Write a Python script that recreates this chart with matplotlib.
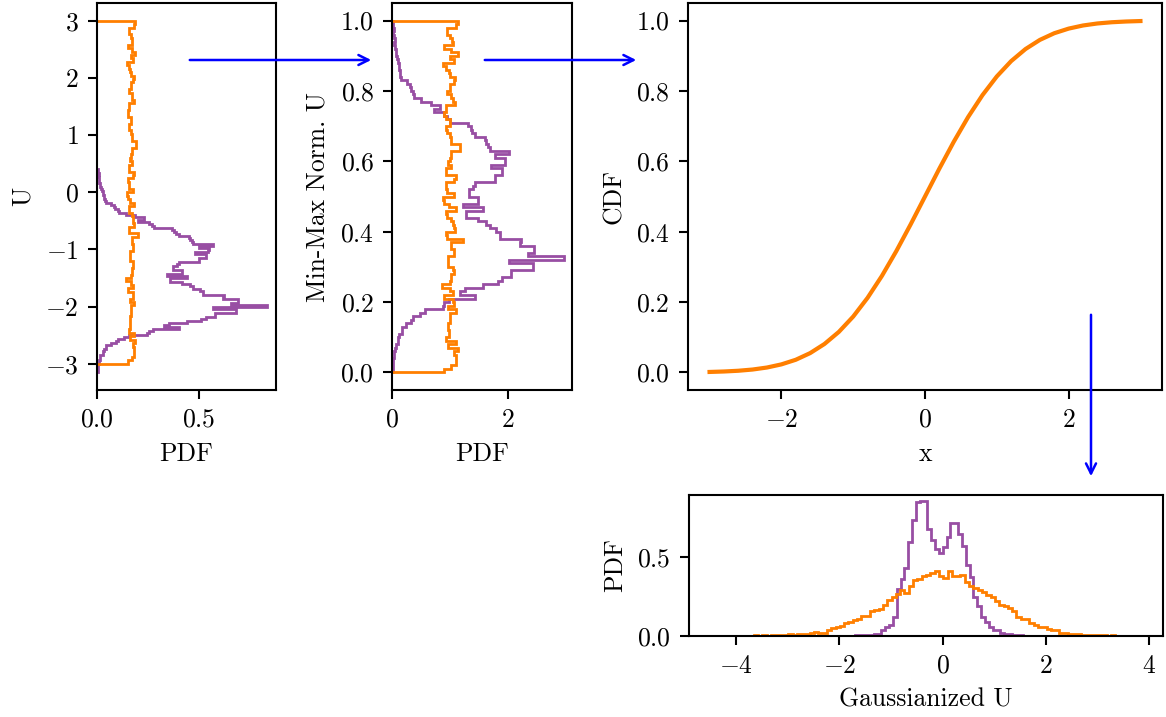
import numpy as np
import matplotlib
matplotlib.use("Agg")
import matplotlib.pyplot as plt
from matplotlib.patches import FancyArrowPatch

# everything scaled ~1.85x from matplotlib defaults
plt.rcParams.update({
    "font.family": "cmr10",
    "mathtext.fontset": "cm",
    "axes.formatter.use_mathtext": True,
    "font.size": 18.5,
    "axes.labelpad": 7.4,
    "axes.linewidth": 1.5,
    "xtick.major.size": 6.5,
    "ytick.major.size": 6.5,
    "xtick.major.width": 1.5,
    "ytick.major.width": 1.5,
    "xtick.major.pad": 6.5,
    "ytick.major.pad": 6.5,
})

PURPLE = "#984ea3"
ORANGE = "#ff7f00"

# ---- histogram densities of min-max normalised U (100 bins on [0, 1]) ----
norm_purple_pdf = [
    0.01, 0.01, 0.02, 0.02, 0.03, 0.03, 0.05, 0.06, 0.10, 0.10,
    0.12, 0.16, 0.16, 0.24, 0.33, 0.36, 0.47, 0.56, 0.87, 0.90,
    0.98, 1.42, 1.16, 1.25, 1.56, 1.82, 1.90, 2.05, 2.05, 2.42,
    2.42, 2.02, 2.97, 2.34, 2.45, 2.45, 2.20, 2.22, 1.85, 1.85,
    1.79, 1.68, 1.62, 1.48, 1.28, 1.28, 1.56, 1.22, 1.48, 1.48,
    1.33, 1.33, 1.39, 1.42, 1.77, 1.77, 1.90, 1.90, 1.71, 1.94,
    1.95, 1.77, 2.02, 1.68, 1.65, 1.62, 1.60, 1.42, 1.38, 1.35,
    1.30, 1.00, 0.95, 0.90, 0.72, 0.82, 0.67, 0.50, 0.38, 0.36,
    0.32, 0.30, 0.25, 0.15, 0.14, 0.13, 0.12, 0.11, 0.10, 0.08,
    0.07, 0.06, 0.05, 0.03, 0.04, 0.03, 0.02, 0.03, 0.02, 0.02,
]
norm_orange_pdf = [
    0.90, 1.02, 1.10, 1.10, 1.10, 1.07, 1.13, 0.96, 1.10, 0.93,
    0.97, 0.97, 0.96, 0.96, 0.99, 0.99, 0.99, 1.10, 0.96, 1.07,
    1.05, 0.90, 1.05, 0.99, 0.86, 0.99, 1.02, 1.02, 1.07, 1.05,
    0.96, 0.96, 0.96, 1.07, 1.07, 1.02, 1.02, 1.22, 0.95, 0.93,
    1.08, 1.07, 1.05, 1.02, 0.95, 0.93, 1.10, 0.97, 0.90, 0.87,
    1.07, 0.95, 0.93, 0.92, 1.07, 1.10, 0.93, 0.93, 1.02, 0.96,
    1.00, 1.02, 1.02, 1.16, 1.16, 1.02, 1.02, 0.99, 0.95, 0.93,
    0.99, 0.99, 0.92, 0.90, 0.93, 0.93, 1.08, 1.04, 1.02, 0.95,
    0.99, 0.99, 1.07, 1.08, 0.99, 0.97, 0.93, 0.87, 1.07, 0.99,
    1.13, 1.02, 0.90, 1.04, 1.03, 0.99, 0.95, 0.95, 1.10, 1.13,
]
# range of U for each series
u_purple_range = (-3.14, 0.41)
u_orange_range = (-3.0, 3.0)

# ---- CDF curve ----
cdf_x = [-3.0, -2.8, -2.6, -2.4, -2.2, -2.0, -1.8, -1.6, -1.4, -1.2, -1.0,
         -0.8, -0.6, -0.4, -0.2, 0.0, 0.2, 0.4, 0.6, 0.8, 1.0,
         1.2, 1.4, 1.6, 1.8, 2.0, 2.2, 2.4, 2.6, 2.8, 3.0]
cdf_y = [0.0013, 0.0026, 0.0047, 0.0082, 0.0139, 0.0228, 0.0359, 0.0548, 0.0808, 0.1151, 0.1587,
         0.2119, 0.2743, 0.3446, 0.4207, 0.5, 0.5793, 0.6554, 0.7257, 0.7881, 0.8413,
         0.8849, 0.9192, 0.9452, 0.9641, 0.9772, 0.9861, 0.9918, 0.9953, 0.9974, 0.9987]

# ---- Gaussianized U histograms (100 bins each) ----
gauss_orange_range = (-4.49, 3.85)
gauss_orange_pdf = [
    0.002, 0.002, 0.0, 0.002, 0.0, 0.002, 0.002, 0.0, 0.002, 0.002,
    0.004, 0.002, 0.004, 0.002, 0.004, 0.004, 0.006, 0.008, 0.010, 0.008,
    0.012, 0.015, 0.014, 0.017, 0.023, 0.019, 0.021, 0.036, 0.050, 0.057,
    0.064, 0.080, 0.090, 0.100, 0.110, 0.130, 0.130, 0.160, 0.168, 0.170,
    0.195, 0.227, 0.250, 0.270, 0.290, 0.275, 0.320, 0.354, 0.365, 0.380,
    0.385, 0.400, 0.410, 0.380, 0.370, 0.410, 0.380, 0.380, 0.390, 0.345,
    0.320, 0.303, 0.290, 0.280, 0.260, 0.250, 0.225, 0.200, 0.190, 0.175,
    0.160, 0.120, 0.110, 0.110, 0.080, 0.070, 0.060, 0.055, 0.045, 0.040,
    0.040, 0.020, 0.020, 0.015, 0.012, 0.010, 0.008, 0.006, 0.008, 0.004,
    0.004, 0.004, 0.002, 0.004, 0.002, 0.002, 0.0, 0.002, 0.0, 0.002,
]
gauss_purple_range = (-3.78, 3.64)
gauss_purple_pdf = [
    0.001, 0.0, 0.0, 0.001, 0.0, 0.0, 0.001, 0.0, 0.0, 0.001,
    0.0, 0.001, 0.0, 0.001, 0.001, 0.0, 0.001, 0.001, 0.001, 0.002,
    0.001, 0.002, 0.002, 0.002, 0.002, 0.003, 0.003, 0.003, 0.004, 0.004,
    0.004, 0.006, 0.006, 0.010, 0.015, 0.036, 0.057, 0.068, 0.120, 0.300,
    0.360, 0.430, 0.600, 0.740, 0.850, 0.855, 0.855, 0.680, 0.610, 0.555,
    0.530, 0.565, 0.630, 0.720, 0.715, 0.650, 0.570, 0.450, 0.375, 0.250,
    0.190, 0.120, 0.090, 0.060, 0.036, 0.036, 0.020, 0.015, 0.012, 0.006,
    0.004, 0.004, 0.002, 0.002, 0.002, 0.001, 0.001, 0.001, 0.0, 0.001,
    0.0, 0.001, 0.0, 0.0, 0.001, 0.0, 0.0, 0.0, 0.001, 0.0,
    0.0, 0.0, 0.001, 0.0, 0.0, 0.0, 0.0, 0.0, 0.0, 0.001,
]


def step_hist(ax, lo, hi, pdf, color, horizontal=False):
    edges = np.linspace(lo, hi, len(pdf) + 1)
    ax.hist(edges[:-1], bins=edges, weights=pdf, histtype="step",
            orientation="horizontal" if horizontal else "vertical",
            color=color, lw=2.0)


fig = plt.figure(figsize=(11.66, 7.17), dpi=100)
W, H = 1166, 717


def px_axes(x0, y0, x1, y1):
    return fig.add_axes([x0 / W, 1 - y1 / H, (x1 - x0) / W, (y1 - y0) / H])


# panel 1: U
ax1 = px_axes(97, 3, 275.5, 390)
pr = u_purple_range[1] - u_purple_range[0]
orr = u_orange_range[1] - u_orange_range[0]
step_hist(ax1, *u_purple_range, np.array(norm_purple_pdf) / pr, PURPLE, True)
step_hist(ax1, *u_orange_range, np.array(norm_orange_pdf) / orr, ORANGE, True)
ax1.set_xlim(0, 0.876)
ax1.set_ylim(-3.46, 3.31)
ax1.set_xticks([0.0, 0.5])
ax1.set_yticks([-3, -2, -1, 0, 1, 2, 3])
ax1.set_xlabel("PDF")
ax1.set_ylabel("U")

# panel 2: min-max normalised U
ax2 = px_axes(392.3, 3, 572, 390)
step_hist(ax2, 0.0, 1.0, norm_purple_pdf, PURPLE, True)
step_hist(ax2, 0.0, 1.0, norm_orange_pdf, ORANGE, True)
ax2.set_xlim(0, 3.1)
ax2.set_ylim(-0.05, 1.05)
ax2.set_xticks([0, 2])
ax2.set_yticks([0.0, 0.2, 0.4, 0.6, 0.8, 1.0])
ax2.set_xlabel("PDF")
ax2.set_ylabel("Min-Max Norm. U")

# panel 3: CDF
ax3 = px_axes(688, 3, 1162, 390)
ax3.plot(cdf_x, cdf_y, color=ORANGE, lw=3.0)
ax3.set_xlim(-3.3, 3.3)
ax3.set_ylim(-0.05, 1.05)
ax3.set_xticks([-2, 0, 2])
ax3.set_yticks([0.0, 0.2, 0.4, 0.6, 0.8, 1.0])
ax3.set_xlabel("x")
ax3.set_ylabel("CDF")

# panel 4: Gaussianized U
ax4 = px_axes(689, 495, 1163, 636)
step_hist(ax4, *gauss_purple_range, gauss_purple_pdf, PURPLE)
step_hist(ax4, *gauss_orange_range, gauss_orange_pdf, ORANGE)
ax4.set_xlim(-4.91, 4.27)
ax4.set_ylim(0, 0.896)
ax4.set_xticks([-4, -2, 0, 2, 4])
ax4.set_yticks([0.0, 0.5])
ax4.set_xlabel("Gaussianized U")
ax4.set_ylabel("PDF")

# arrows between panels
for (xa, ya), (xb, yb) in [((187, 60), (374, 60)),
                           ((482, 60), (639, 60)),
                           ((1091, 312), (1091, 479))]:
    arr = FancyArrowPatch((xa / W, 1 - ya / H), (xb / W, 1 - yb / H),
                          transform=fig.transFigure, arrowstyle="->",
                          mutation_scale=18, color="blue", lw=1.8)
    fig.add_artist(arr)

fig.savefig("out.png", dpi=100)
